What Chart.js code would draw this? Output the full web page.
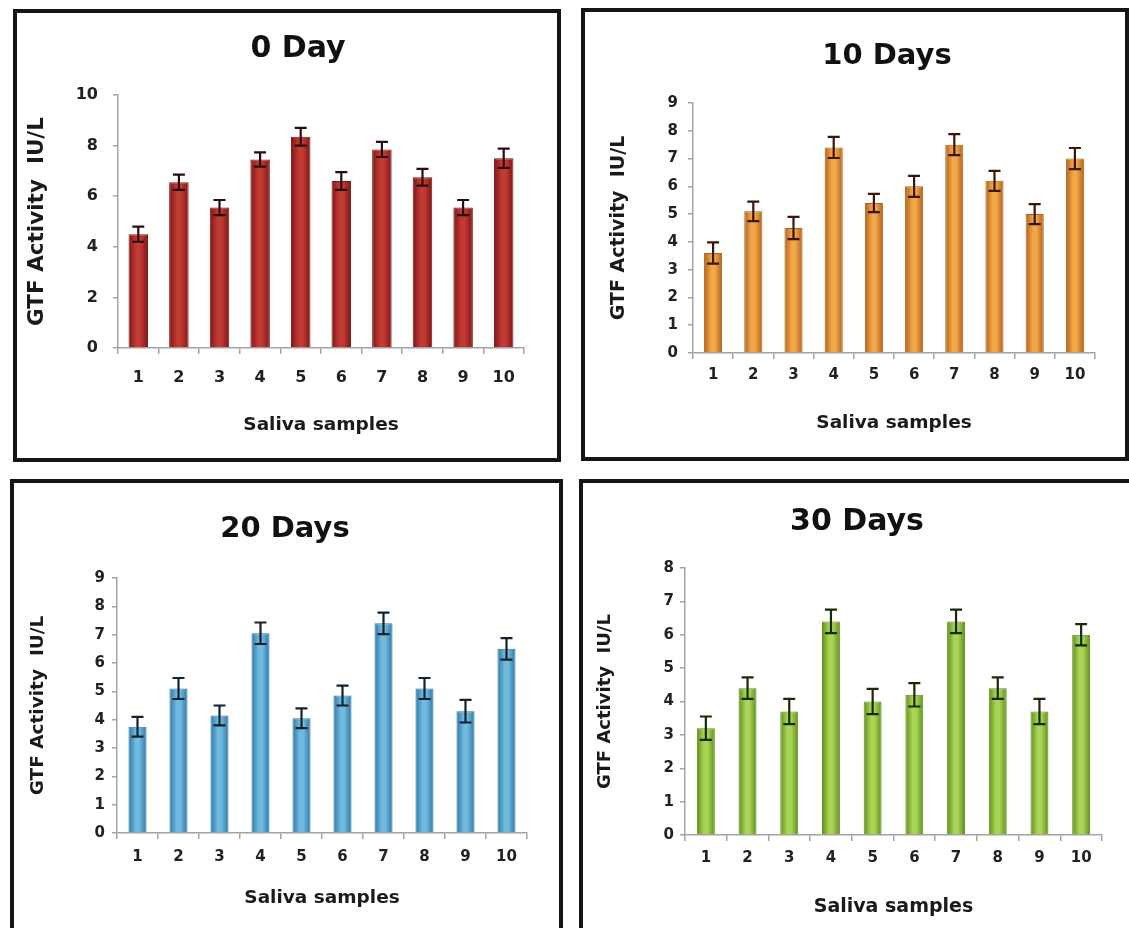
<!DOCTYPE html>
<html><head><meta charset="utf-8">
<script src="https://cdn.jsdelivr.net/npm/chart.js@4.4.1/dist/chart.umd.min.js"></script>
<style>
html,body{margin:0;padding:0;background:#fff;width:1129px;height:928px;overflow:hidden;position:relative}
.panel{position:absolute;border:4px solid #151515;background:#fff;box-sizing:border-box;overflow:hidden}
.panel canvas{position:absolute;left:0;top:0}
</style></head><body>
<div class="panel" style="left:13px;top:9px;width:548px;height:453px"><canvas id="c1" width="540" height="445"></canvas></div>
<div class="panel" style="left:581px;top:8px;width:548px;height:453px"><canvas id="c2" width="540" height="445"></canvas></div>
<div class="panel" style="left:10px;top:479px;width:553px;height:470px"><canvas id="c3" width="545" height="462"></canvas></div>
<div class="panel" style="left:579px;top:479px;width:560px;height:470px"><canvas id="c4" width="552" height="462"></canvas></div>
<script>
// ---------- data ----------
const samples = ['1','2','3','4','5','6','7','8','9','10'];
const day0     = [4.5, 6.55, 5.55, 7.45, 8.35, 6.6, 7.85, 6.75, 5.55, 7.5];
const day0Err  = [0.3, 0.3, 0.3, 0.28, 0.35, 0.35, 0.3, 0.33, 0.3, 0.38];
const day10    = [3.6, 5.1, 4.5, 7.4, 5.4, 6.0, 7.5, 6.2, 5.0, 7.0];
const day10Err = [0.38, 0.35, 0.4, 0.38, 0.33, 0.38, 0.38, 0.36, 0.36, 0.38];
const day20    = [3.75, 5.1, 4.15, 7.05, 4.05, 4.85, 7.4, 5.1, 4.3, 6.5];
const day20Err = [0.35, 0.37, 0.35, 0.38, 0.35, 0.35, 0.38, 0.37, 0.4, 0.38];
const day30    = [3.2, 4.4, 3.7, 6.4, 4.0, 4.2, 6.4, 4.4, 3.7, 6.0];
const day30Err = [0.35, 0.32, 0.38, 0.35, 0.38, 0.35, 0.35, 0.32, 0.38, 0.32];
const titles = ['0 Day', '10 Days', '20 Days', '30 Days'];
const yTitle = 'GTF Activity  IU/L';
const xTitle = 'Saliva samples';
const yMaxes = [10, 9, 9, 8];
const ySteps = [2, 1, 1, 1];

// ---------- style ----------
const FONT = "'DejaVu Sans', sans-serif";
const AXIS = '#a3a3a3';

const errorBars = {
  id: 'errorBars',
  afterDatasetsDraw(chart, args, o) {
    const ctx = chart.ctx, ys = chart.scales.y;
    chart.data.datasets.forEach((ds, di) => {
      const meta = chart.getDatasetMeta(di);
      meta.data.forEach((bar, i) => {
        const v = ds.data[i], e = ds.errors[i];
        const yT = ys.getPixelForValue(v + e), yB = ys.getPixelForValue(v - e);
        ctx.save();
        ctx.strokeStyle = o.color; ctx.lineWidth = o.width;
        ctx.beginPath();
        ctx.moveTo(bar.x, yT); ctx.lineTo(bar.x, yB);
        ctx.moveTo(bar.x - o.cap, yT); ctx.lineTo(bar.x + o.cap, yT);
        ctx.moveTo(bar.x - o.cap, yB); ctx.lineTo(bar.x + o.cap, yB);
        ctx.stroke();
        ctx.restore();
      });
    });
  }
};
const panelTitle = {
  id: 'panelTitle',
  afterDraw(chart, args, o) {
    const ctx = chart.ctx;
    ctx.save();
    ctx.font = 'bold ' + o.size + 'px ' + FONT;
    ctx.fillStyle = '#111';
    ctx.textAlign = 'center';
    ctx.textBaseline = 'middle';
    ctx.fillText(o.text, o.x, o.y);
    ctx.restore();
  }
};

function gradientFill(dark, light, barPct) {
  return (c) => {
    const ch = c.chart, xs = ch.scales && ch.scales.x;
    if (!xs || !ch.chartArea || c.dataIndex === undefined) return light;
    const cx = xs.getPixelForValue(c.dataIndex);
    const w = xs.width / samples.length * barPct;
    const g = ch.ctx.createLinearGradient(cx - w / 2, 0, cx + w / 2, 0);
    g.addColorStop(0, dark);
    g.addColorStop(0.4, light);
    g.addColorStop(0.6, light);
    g.addColorStop(1, dark);
    return g;
  };
}

function makeChart(id, values, errors, idx, s) {
  const canvas = document.getElementById(id);
  const W = canvas.width, H = canvas.height;
  new Chart(canvas, {
    type: 'bar',
    data: {
      labels: samples,
      datasets: [{
        data: values, errors: errors,
        backgroundColor: gradientFill(s.dark, s.light, s.barPct),
        borderColor: s.dark, borderWidth: 1,
        barPercentage: s.barPct, categoryPercentage: 1
      }]
    },
    options: {
      responsive: false, animation: false, devicePixelRatio: 1,
      layout: { padding: { left: 0, top: s.T, right: W - s.R, bottom: 0 } },
      plugins: {
        legend: { display: false }, tooltip: { enabled: false }, title: { display: false },
        errorBars: { color: s.err, width: 2.2, cap: 6 },
        panelTitle: { text: titles[idx], x: s.tx, y: s.ty, size: s.tsize }
      },
      scales: {
        x: {
          grid: { display: true, drawOnChartArea: false, drawTicks: true, tickLength: 6, color: AXIS, lineWidth: 1.5, offset: true },
          border: { display: true, color: AXIS, width: 1.5 },
          ticks: { color: '#222', font: { family: FONT, size: s.tickSize, weight: 'bold' }, padding: s.xtp, maxRotation: 0 },
          title: { display: true, text: xTitle, color: '#1a1a1a', font: { family: FONT, size: s.xsize, weight: 'bold' }, padding: { top: 0, bottom: s.xpb } },
          afterFit: (sc) => { sc.height = H - s.B; }
        },
        y: {
          min: 0, max: yMaxes[idx],
          grid: { display: true, drawOnChartArea: false, drawTicks: true, tickLength: 5, color: AXIS, lineWidth: 1.5 },
          border: { display: true, color: AXIS, width: 1.5 },
          ticks: { stepSize: ySteps[idx], color: '#222', font: { family: FONT, size: s.tickSize, weight: 'bold' }, padding: s.ytp },
          title: { display: true, text: yTitle, color: '#1a1a1a', font: { family: FONT, size: s.ysize, weight: 'bold' }, padding: { top: s.ypt, bottom: 0 } },
          afterFit: (sc) => { sc.width = s.L; }
        }
      }
    },
    plugins: [errorBars, panelTitle]
  });
}

makeChart('c1', day0, day0Err, 0, {
  L: 101, R: 507, T: 82, B: 335, tx: 281, ty: 36, tsize: 30,
  xsize: 18.5, xpb: 22, ysize: 21.5, ypt: 8, tickSize: 16, xtp: 14, ytp: 15,
  dark: '#7e1616', light: '#c23a34', err: '#2a0c0c', barPct: 0.48
});
makeChart('c2', day10, day10Err, 1, {
  L: 108, R: 510, T: 91, B: 341, tx: 302, ty: 44, tsize: 29,
  xsize: 18.5, xpb: 23, ysize: 19, ypt: 22.5, tickSize: 15, xtp: 7.5, ytp: 10,
  dark: '#b1601a', light: '#f2a748', err: '#3a1606', barPct: 0.45
});
makeChart('c3', day20, day20Err, 2, {
  L: 103, R: 513, T: 95, B: 350, tx: 271, ty: 46, tsize: 29,
  xsize: 18.5, xpb: 36, ysize: 18.5, ypt: 13, tickSize: 15, xtp: 9.5, ytp: 7,
  dark: '#2c77a3', light: '#70b9df', err: '#13222e', barPct: 0.44
});
makeChart('c4', day30, day30Err, 3, {
  L: 102, R: 519, T: 85, B: 352, tx: 274, ty: 39, tsize: 30,
  xsize: 19, xpb: 27, ysize: 18, ypt: 12, tickSize: 15, xtp: 8.5, ytp: 6,
  dark: '#5f8f1c', light: '#a9d455', err: '#1a2a08', barPct: 0.43
});
</script>
</body></html>
